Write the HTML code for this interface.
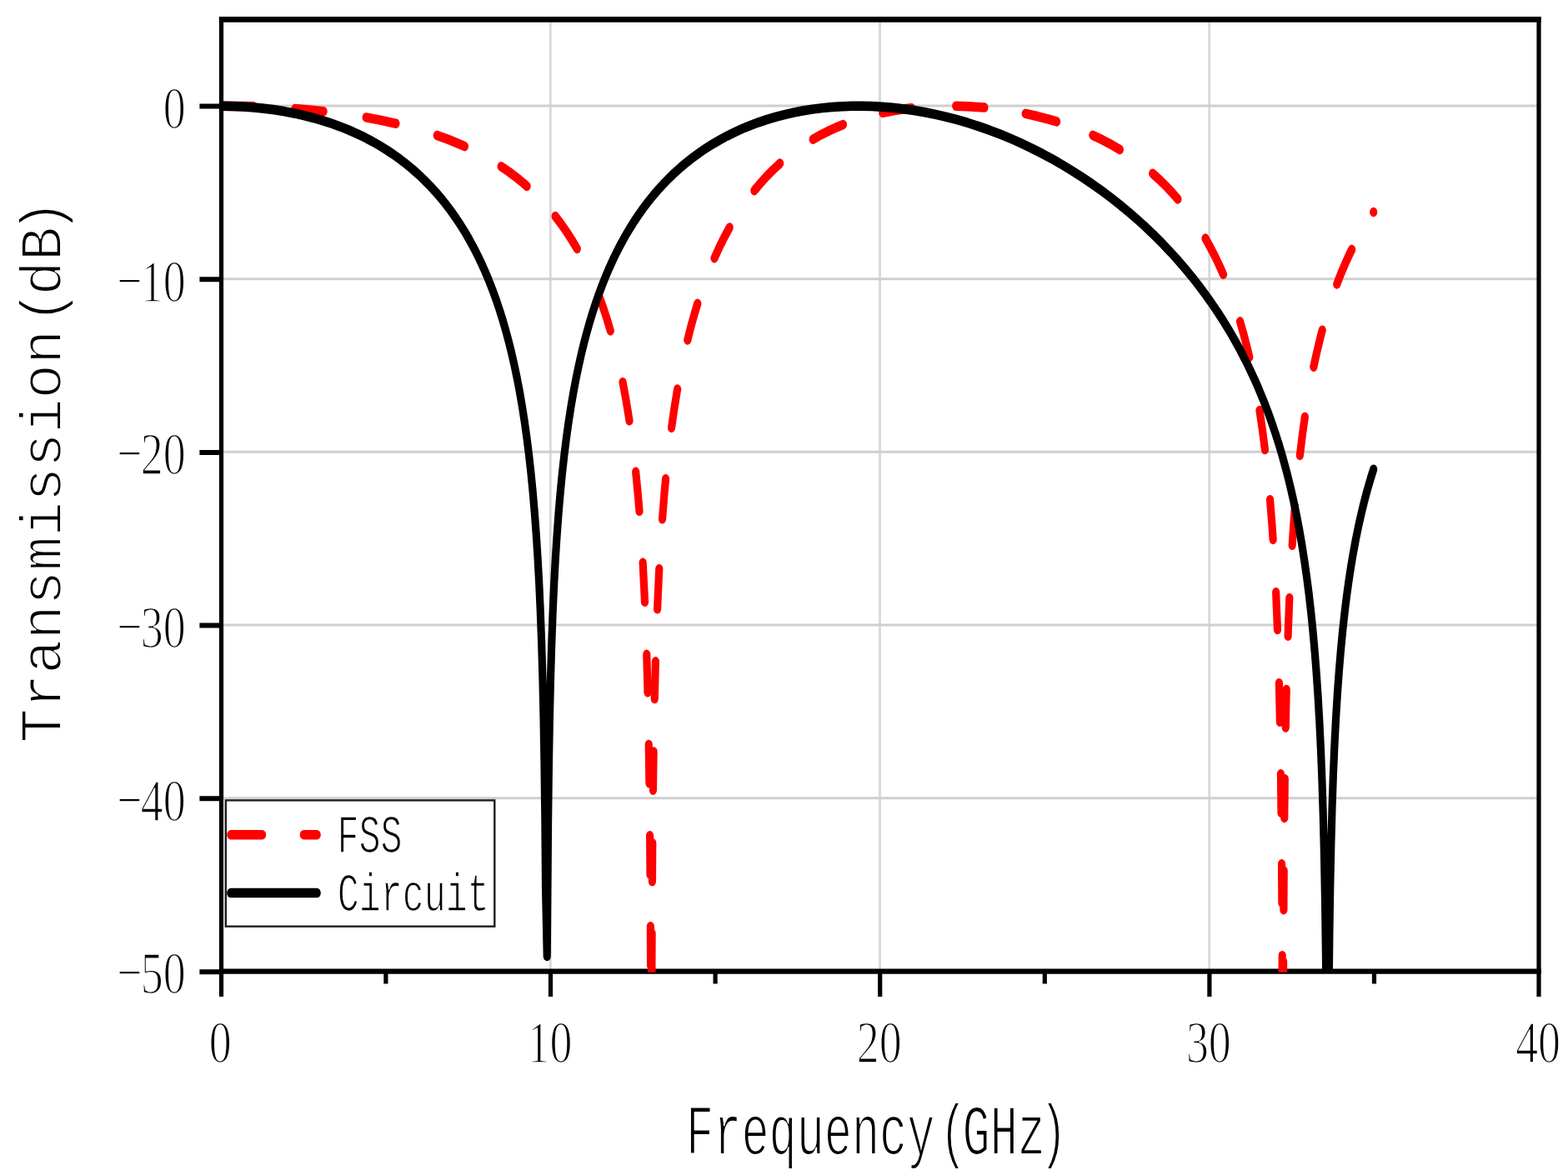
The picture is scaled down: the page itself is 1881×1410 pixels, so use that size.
<!DOCTYPE html>
<html lang="en"><head><meta charset="utf-8"><title>FSS Circuit Transmission(dB) Frequency(GHz)</title>
<style>html,body{margin:0;padding:0;background:#fff}svg{display:block}text{font-family:"Liberation Serif","DejaVu Serif",serif;fill:#000}text.m{font-family:"Liberation Mono","DejaVu Sans Mono",monospace}</style></head><body>
<svg width="1881" height="1410" viewBox="0 0 1881 1410">
<rect width="1881" height="1410" fill="#fff"/>
<path d="M660.30 23.45V1165.70M1055.50 23.45V1165.70M1450.70 23.45V1165.70" stroke="#d8d8d8" stroke-width="2.8" fill="none"/>
<path d="M265.50 127.00H1846.00M265.50 334.66H1846.00M265.50 542.32H1846.00M265.50 749.98H1846.00M265.50 957.64H1846.00" stroke="#cfcfcf" stroke-width="3" fill="none"/>
<path d="M265.50 20.10V1196.0M1846.00 20.10V1196.0M660.50 1165.70V1196.0M1055.70 1165.70V1196.0M1450.90 1165.70V1196.0M462.90 1165.70V1180.6M858.10 1165.70V1180.6M1253.30 1165.70V1180.6M1648.50 1165.70V1180.6" stroke="#000" stroke-width="5.2" fill="none"/>
<path d="M262.90 23.45H1848.60" stroke="#000" stroke-width="6.7" fill="none"/>
<path d="M262.90 1165.70H1848.60" stroke="#000" stroke-width="6.2" fill="none"/>
<path d="M239.4 1166.30H265.50M239.4 127.60H265.50M239.4 335.26H265.50M239.4 542.92H265.50M239.4 750.58H265.50M239.4 958.24H265.50" stroke="#000" stroke-width="6" fill="none"/>
<clipPath id="c"><rect x="262.90" y="18.760" width="1585.70" height="914.680"/></clipPath>
<g transform="scale(1,1.25)" clip-path="url(#c)" fill="none" stroke-linecap="round" stroke-linejoin="round" stroke-width="9.2">
<path d="M266.75 101.76L291.46 101.98L304.04 102.25M353.89 104.39L376.29 105.96L388.15 106.95M439.13 112.75L457.18 115.49L474.21 118.47L474.95 118.61M524.29 129.96L537.61 133.87L550.23 137.98L557.47 140.54M601.16 159.76L610.68 165.02L619.78 170.50L628.49 176.21L632.11 178.73M666.10 207.56L672.95 214.80L679.55 222.35L685.89 230.24L692.01 238.46L692.28 238.85M718.17 283.31L723.05 294.03L727.72 305.31L732.20 317.17L732.30 317.44M747.05 366.93L750.62 382.33L753.99 398.71L754.97 403.86M762.67 453.01L765.28 474.58L766.98 490.68M771.15 540.16L773.05 570.14L773.48 577.86M775.77 628.27L776.99 664.68M778.24 714.77L778.92 751.80M779.60 802.29L779.97 839.59M780.34 889.39L780.54 926.69M781.89 933.39L782.08 896.09M782.43 846.20L782.78 809.38M783.43 758.59L784.08 721.53M785.27 670.85L786.41 635.07M788.56 584.68L790.38 552.63L790.79 546.16M794.54 498.23L796.96 474.02L798.58 459.78M805.56 410.68L808.80 392.55L812.24 375.49L812.63 373.70M824.80 326.35L829.10 312.80L833.61 299.91L836.78 291.51M857.00 247.78L862.64 237.88L868.47 228.43L874.51 219.40L875.18 218.43M904.91 182.93L912.11 176.01L919.54 169.44L927.20 163.19L935.10 157.25L935.64 156.87M975.17 133.75L984.72 129.47L994.62 125.48L1004.90 121.77L1011.46 119.62M1058.79 108.29L1071.57 106.30L1084.81 104.66L1093.49 103.79M1146.70 101.80L1161.68 102.19L1176.73 102.98L1180.96 103.27M1230.23 109.09L1244.31 111.61L1257.98 114.46L1267.65 116.73M1310.89 129.82L1322.13 134.14L1332.92 138.71L1343.28 143.53L1343.33 143.56M1382.75 166.60L1391.16 172.71L1399.25 179.08L1407.03 185.72L1412.96 191.13M1446.00 228.88L1452.07 237.63L1457.92 246.76L1463.54 256.29L1467.48 263.46M1487.62 308.67L1492.04 321.17L1496.26 334.34L1498.78 342.88M1510.98 394.06L1514.21 411.56L1517.25 430.27L1517.45 431.62M1523.58 479.75L1525.95 503.87L1527.16 517.92M1530.65 568.66L1532.37 602.19L1532.47 604.41M1534.40 655.79L1535.43 693.08M1536.45 743.08L1537.01 780.37M1537.56 829.48L1537.87 866.78M1538.17 917.31L1538.34 954.61M1539.45 960.52L1539.61 923.22M1539.91 873.32L1540.20 836.02M1540.75 785.17L1541.29 747.88M1542.26 698.45L1543.22 662.00M1545.07 610.53L1546.74 575.87L1546.83 574.14M1550.16 523.44L1552.38 497.40L1553.46 486.29M1559.38 437.06L1562.35 417.55L1565.33 400.32M1575.85 352.20L1579.81 337.68L1583.96 323.90L1586.20 317.05M1603.75 272.73L1608.96 262.06L1614.38 251.87L1619.99 242.14L1621.59 239.52M1647.70 203.63L1647.70 203.63" stroke="#fe0000"/>
<path d="M265.30 101.76L278.49 101.91L291.68 102.37L304.88 103.15L317.19 104.16L329.50 105.45L341.81 107.05L354.13 108.96L365.56 111.03L376.99 113.40L387.55 115.87L398.10 118.64L408.65 121.72L418.33 124.83L428.00 128.25L437.68 131.99L446.47 135.70L455.26 139.71L464.06 144.07L471.97 148.30L479.89 152.86L487.80 157.76L494.84 162.43L501.88 167.43L508.91 172.77L515.95 178.50L522.10 183.85L528.26 189.55L534.42 195.62L540.57 202.12L546.73 209.06L552.01 215.42L557.28 222.18L562.56 229.40L567.84 237.11L573.11 245.38L577.51 252.74L581.91 260.59L586.30 268.97L590.70 277.97L595.10 287.65L599.50 298.11L603.01 307.14L606.53 316.82L610.05 327.26L613.57 338.58L616.81 349.92L620.24 363.02L623.37 376.16L626.22 389.32L629.23 404.71L631.93 420.13L634.36 435.57L636.83 453.23L639.02 470.91L641.18 490.81L643.25 512.95L645.03 535.09L646.70 559.47L648.22 586.06L649.67 617.10L650.92 650.37L652.02 688.07L653.00 732.44L653.84 785.68L654.54 852.23L656.25 917.95M656.25 917.95L657.55 790.09L658.37 736.84L659.32 692.47L660.46 652.53L661.69 619.25L663.12 588.19L664.62 561.58L666.26 537.19L668.01 515.02L670.05 492.86L672.18 472.93L674.33 455.22L676.77 437.53L679.16 422.06L681.82 406.61L684.78 391.18L687.59 377.98L690.67 364.80L694.05 351.65L697.39 339.75L700.61 329.19L703.83 319.40L707.05 310.26L710.28 301.71L713.50 293.67L717.79 283.67L722.08 274.39L726.38 265.74L730.67 257.65L734.97 250.06L739.26 242.91L744.63 234.55L749.99 226.75L755.36 219.46L760.73 212.62L766.10 206.19L771.46 200.14L776.83 194.43L783.27 188.00L789.71 181.99L796.16 176.35L802.60 171.06L809.04 166.10L816.55 160.68L824.07 155.64L831.58 150.93L839.10 146.55L846.61 142.46L855.20 138.13L863.79 134.13L872.37 130.43L880.96 127.03L890.62 123.53L900.29 120.35L909.95 117.47L919.61 114.88L930.34 112.31L941.08 110.06L951.81 108.11L962.55 106.43L974.36 104.91L986.17 103.69L997.97 102.78L1009.78 102.16L1021.59 101.83L1033.40 101.77L1045.21 101.99L1058.09 102.53L1070.97 103.38L1083.85 104.54L1096.74 106.01L1109.62 107.79L1122.50 109.87L1135.38 112.26L1148.26 114.96L1161.15 117.96L1174.03 121.28L1186.91 124.91L1199.79 128.86L1212.67 133.13L1225.56 137.72L1238.44 142.65L1251.32 147.92L1263.13 153.06L1274.94 158.50L1286.75 164.25L1298.55 170.32L1310.36 176.72L1322.17 183.48L1332.91 189.94L1343.64 196.72L1354.38 203.83L1365.11 211.31L1374.77 218.36L1384.43 225.75L1394.10 233.49L1403.76 241.62L1412.35 249.20L1420.93 257.13L1429.52 265.46L1438.11 274.21L1445.62 282.25L1453.14 290.70L1460.65 299.58L1468.17 308.94L1474.61 317.40L1481.05 326.30L1487.49 335.69L1493.93 345.64L1499.30 354.41L1504.67 363.66L1510.03 373.45L1515.40 383.87L1520.77 394.99L1525.06 404.47L1529.36 414.54L1533.65 425.28L1537.95 436.79L1542.24 449.21L1545.46 459.20L1548.68 469.88L1551.90 481.34L1555.33 494.55L1558.61 508.31L1561.59 522.04L1564.75 538.01L1567.58 553.94L1570.12 569.82L1572.71 587.93L1575.00 606.00L1577.26 626.29L1579.23 646.53L1581.12 668.99L1582.89 693.64L1584.51 720.50L1585.95 749.54L1587.30 783.02L1588.50 820.90L1589.51 863.20L1590.40 914.36L1591.13 976.59L1591.71 1056.54L1592.13 1165.32L1592.35 1264.66L1592.68 1264.66L1593.00 1121.07L1593.47 1025.73L1594.08 954.82L1594.86 897.24L1595.77 850.78L1596.81 810.99L1598.02 775.66L1599.34 744.79L1600.86 716.16L1602.55 689.78L1604.41 665.63L1606.38 643.73L1608.45 624.05L1610.53 606.60L1612.90 589.19L1615.21 573.99L1617.80 558.83L1620.67 543.71L1623.40 530.79L1626.38 517.91L1629.66 505.07L1633.01 493.10L1636.58 481.41L1640.35 470.11L1644.32 459.18L1647.70 450.57" stroke="#000"/>
</g>
<rect x="270.8" y="960.4" width="322.5" height="151.3" fill="#fff" stroke="#1e1e1e" stroke-width="2.4"/>
<g transform="scale(1,1.25)" fill="none" stroke-linecap="round" stroke-width="9.2">
<path d="M276.8 801.36H314.6M364.3 801.36H380.2" stroke="#fe0000"/>
<path d="M276.8 857.28H380.2" stroke="#000"/>
</g>
<text transform="translate(195.70 154.10) scale(1.0000 1.3250)" x="13.45" y="0" font-size="54" text-anchor="middle" stroke="#fff" stroke-width="1.3">0</text>
<text transform="translate(141.90 361.76) scale(1.0000 1.3250)" x="13.45 40.35 67.25" y="0" font-size="54" text-anchor="middle"><tspan font-size="118" dy="9.0" stroke="#fff" stroke-width="7.0" paint-order="fill stroke">-</tspan><tspan dy="-9.0" stroke="#fff" stroke-width="1.3">10</tspan></text>
<text transform="translate(141.90 569.42) scale(1.0000 1.3250)" x="13.45 40.35 67.25" y="0" font-size="54" text-anchor="middle"><tspan font-size="118" dy="9.0" stroke="#fff" stroke-width="7.0" paint-order="fill stroke">-</tspan><tspan dy="-9.0" stroke="#fff" stroke-width="1.3">20</tspan></text>
<text transform="translate(141.90 777.08) scale(1.0000 1.3250)" x="13.45 40.35 67.25" y="0" font-size="54" text-anchor="middle"><tspan font-size="118" dy="9.0" stroke="#fff" stroke-width="7.0" paint-order="fill stroke">-</tspan><tspan dy="-9.0" stroke="#fff" stroke-width="1.3">30</tspan></text>
<text transform="translate(141.90 984.74) scale(1.0000 1.3250)" x="13.45 40.35 67.25" y="0" font-size="54" text-anchor="middle"><tspan font-size="118" dy="9.0" stroke="#fff" stroke-width="7.0" paint-order="fill stroke">-</tspan><tspan dy="-9.0" stroke="#fff" stroke-width="1.3">40</tspan></text>
<text transform="translate(141.90 1192.40) scale(1.0000 1.3250)" x="13.45 40.35 67.25" y="0" font-size="54" text-anchor="middle"><tspan font-size="118" dy="9.0" stroke="#fff" stroke-width="7.0" paint-order="fill stroke">-</tspan><tspan dy="-9.0" stroke="#fff" stroke-width="1.3">50</tspan></text>
<text transform="translate(250.85 1275.30) scale(1.0000 1.3250)" x="13.45" y="0" font-size="54" text-anchor="middle" stroke="#fff" stroke-width="1.3">0</text>
<text transform="translate(632.60 1275.30) scale(1.0000 1.3250)" x="13.45 40.35" y="0" font-size="54" text-anchor="middle" stroke="#fff" stroke-width="1.3">10</text>
<text transform="translate(1027.80 1275.30) scale(1.0000 1.3250)" x="13.45 40.35" y="0" font-size="54" text-anchor="middle" stroke="#fff" stroke-width="1.3">20</text>
<text transform="translate(1423.00 1275.30) scale(1.0000 1.3250)" x="13.45 40.35" y="0" font-size="54" text-anchor="middle" stroke="#fff" stroke-width="1.3">30</text>
<text transform="translate(1818.20 1275.30) scale(1.0000 1.3250)" x="13.45 40.35" y="0" font-size="54" text-anchor="middle" stroke="#fff" stroke-width="1.3">40</text>
<text class="m" transform="translate(404.40 1022.60) scale(0.6606 1.0000)" x="0" y="0" font-size="65.6" stroke="#fff" stroke-width="1.7">FSS</text>
<text class="m" transform="translate(404.80 1092.70) scale(0.6606 1.0000)" x="0" y="0" font-size="65.6" stroke="#fff" stroke-width="1.7">Circuit</text>
<text class="m" transform="translate(823.10 1384.80) scale(0.6513 1.0000)" x="0" y="0" font-size="84.8" stroke="#fff" stroke-width="2.1" dx="0.00 0.00 0.00 0.00 0.00 0.00 0.00 0.00 0.00 8.65 -8.65 0.00 0.00 -10.69">Frequency(GHz)</text>
<text class="m" transform="translate(73.20 891.40) rotate(-90) scale(0.9876 1.0000)" x="0" y="0" font-size="69.7" stroke="#fff" stroke-width="1.9" dx="0.00 0.00 0.00 0.00 0.00 0.00 0.00 0.00 0.00 0.00 0.00 0.00 7.11 -7.11 0.00 -8.78">Transmission(dB)</text>
</svg></body></html>
